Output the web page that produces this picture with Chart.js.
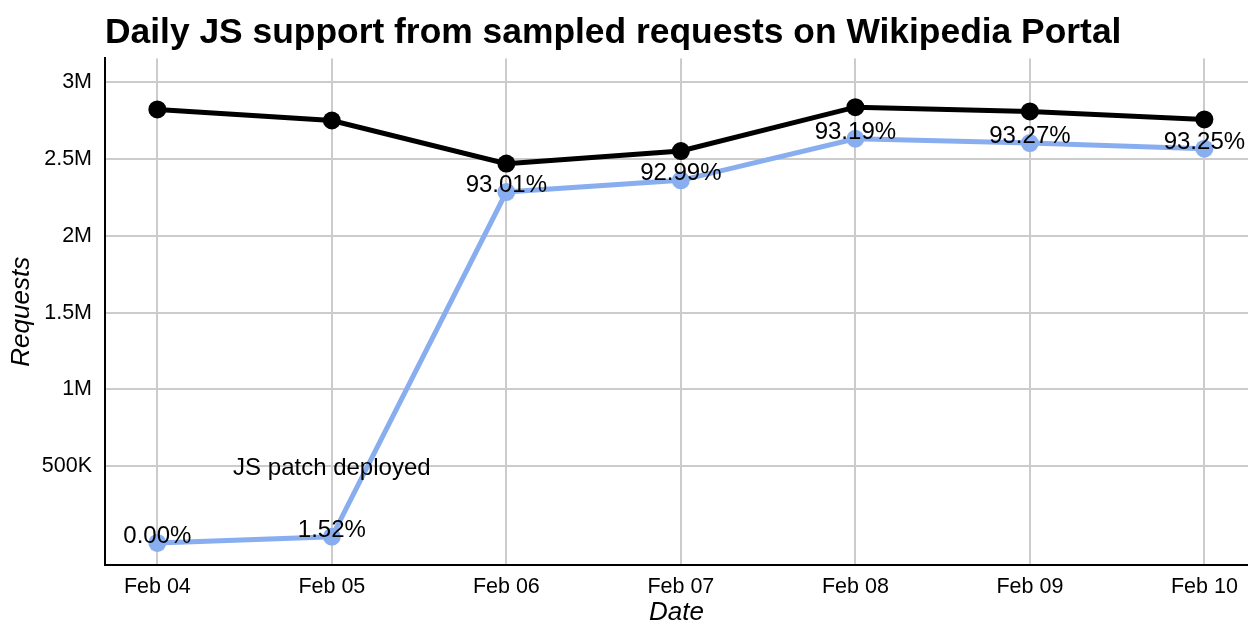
<!DOCTYPE html>
<html>
<head>
<meta charset="utf-8">
<script src="https://cdn.jsdelivr.net/npm/chart.js@4"></script>
<style>
  html, body { margin: 0; padding: 0; background: #fff; }
  #wrap { width: 1248px; height: 624px; position: relative; }
</style>
</head>
<body>
<div id="wrap"><canvas id="chart"></canvas></div>
<script>
const days = ['Feb 04', 'Feb 05', 'Feb 06', 'Feb 07', 'Feb 08', 'Feb 09', 'Feb 10'];
const totalRequests = [2824000, 2752000, 2471000, 2553000, 2839000, 2811000, 2759000];
const jsRequests = [0, 40000, 2286000, 2362000, 2633000, 2605000, 2568000];
const pctLabels = ['0.00%', '1.52%', '93.01%', '92.99%', '93.19%', '93.27%', '93.25%'];
const yTickValues = [500000, 1000000, 1500000, 2000000, 2500000, 3000000];
const yTickLabels = ['500K', '1M', '1.5M', '2M', '2.5M', '3M'];
const noteText = ['JS patch deployed'];
const noteAt = [[1, 440000]];

const FONT = "'Liberation Sans', Arial, sans-serif";
Chart.defaults.font.family = FONT;
Chart.defaults.color = '#000';

const pts = (vals) => vals.map((v, i) => ({ x: i, y: v }));

// percentage labels over the blue line + the deploy note
const textPlugin = {
  id: 'texts',
  afterDatasetsDraw(chart) {
    const ctx = chart.ctx, xs = chart.scales.x, ys = chart.scales.y;
    ctx.save();
    ctx.fillStyle = '#000';
    ctx.textAlign = 'center';
    ctx.textBaseline = 'alphabetic';
    ctx.font = `24px ${FONT}`;
    chart.getDatasetMeta(1).data.forEach((p, i) => ctx.fillText(pctLabels[i], p.x, p.y));
    noteText.forEach((t, i) => ctx.fillText(t, xs.getPixelForValue(noteAt[i][0]), ys.getPixelForValue(noteAt[i][1])));
    ctx.restore();
  },
};

new Chart(document.getElementById('chart'), {
  type: 'line',
  data: {
    datasets: [
      { label: 'Requests', data: pts(totalRequests), borderColor: '#000', backgroundColor: '#000',
        borderWidth: 5, pointRadius: 9, pointBackgroundColor: '#000', pointBorderWidth: 0 },
      { label: 'JS support', data: pts(jsRequests), borderColor: '#89aef0', backgroundColor: '#89aef0',
        borderWidth: 5, pointRadius: 9, pointBackgroundColor: '#89aef0', pointBorderWidth: 0 },
    ],
  },
  options: {
    responsive: true,
    maintainAspectRatio: false,
    animation: false,
    events: [],
    layout: { padding: 0, autoPadding: false },
    plugins: {
      legend: { display: false },
      tooltip: { enabled: false },
      title: {
        display: true, text: 'Daily JS support from sampled requests on Wikipedia Portal',
        align: 'start', fullSize: false, color: '#000',
        font: { size: 35.4, weight: 'bold', lineHeight: 1.2 },
        padding: { top: 12, bottom: 4 },
      },
    },
    scales: {
      x: {
        type: 'linear', min: -0.3, max: 6.25,
        afterBuildTicks: (s) => { s.ticks = days.map((_, i) => ({ value: i })); },
        afterFit: (s) => { s.height = 59; s.paddingLeft = 0; s.paddingRight = 0; },
        ticks: { callback: (v) => days[v] ?? '', autoSkip: false, maxRotation: 0, padding: 9, font: { size: 21.5 }, color: '#000' },
        grid: { color: '#cccccc', lineWidth: 2, drawTicks: false },
        border: { color: '#000', width: 2 },
        title: { display: true, text: 'Date', font: { size: 26, style: 'italic', lineHeight: 0.9 }, padding: 0, color: '#000' },
      },
      y: {
        min: -144000, max: 3156000,
        afterBuildTicks: (s) => { s.ticks = yTickValues.map((v) => ({ value: v })); },
        afterFit: (s) => { s.width = 105; s.paddingTop = 0; s.paddingBottom = 0; },
        ticks: { callback: (v) => yTickLabels[yTickValues.indexOf(v)] ?? '', padding: 13, font: { size: 21.5 }, color: '#000' },
        grid: { color: '#cccccc', lineWidth: 2, drawTicks: false },
        border: { color: '#000', width: 2 },
        title: { display: true, text: 'Requests', font: { size: 26, style: 'italic', lineHeight: 1.2 }, padding: { top: 6, bottom: 0 }, color: '#000' },
      },
    },
  },
  plugins: [textPlugin],
});
</script>
</body>
</html>
